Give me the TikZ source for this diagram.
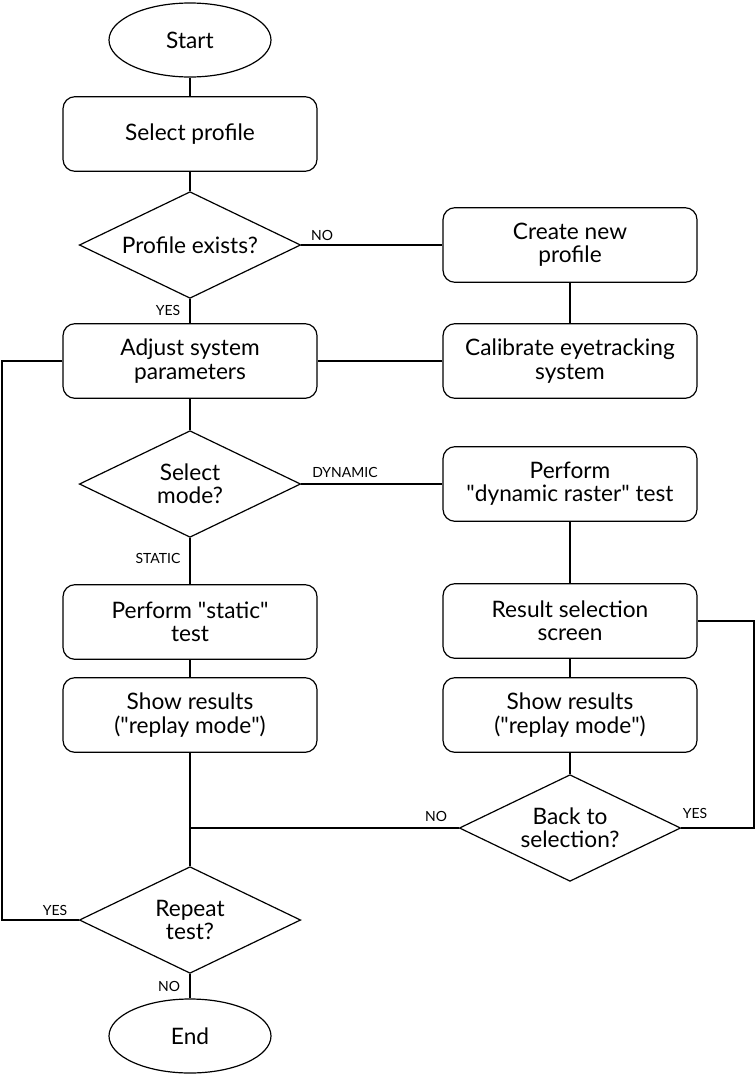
\documentclass[tikz,border=0pt]{standalone}
\usepackage{fontspec}
\setmainfont{Lato}
\usetikzlibrary{shapes.geometric, positioning}

\begin{document}
\begin{tikzpicture}[x=0.75pt, y=-0.75pt, line width=0.9pt]
                % Styles
                \tikzstyle{term}=[draw, ellipse, minimum width=121.5pt, minimum height=55.5pt, inner sep=0pt, font=\fontsize{17}{17.5}\selectfont]
                \tikzstyle{proc}=[draw, rounded corners=9pt, minimum width=190.5pt, minimum height=56pt, align=center, font=\fontsize{17}{17.5}\selectfont]
                \tikzstyle{decide}=[draw, diamond, aspect=2, inner sep=0pt, minimum width=166pt, minimum height=80pt, align=center, font=\fontsize{17}{17.5}\selectfont]
                \tikzstyle{lbl}=[inner sep=1pt, font=\fontsize{10.5}{12}\selectfont]

                \useasboundingbox (0,0) rectangle (756,1075);

                % Left column
                \node[term] (start) at (190,40) {Start};
                \node[proc] (sel) at (190,134) {Select profile};
                \node[decide] (exists) at (190,245) {Profile exists?};
                \node[proc] (adjust) at (190,361) {Adjust system\\parameters};
                \node[decide] (mode) at (190,484) {Select\\mode?};
                \node[proc] (stat) at (190,622) {Perform \textquotedbl static\textquotedbl\\test};
                \node[proc] (showl) at (190,715) {Show results\\(\textquotedbl replay mode\textquotedbl)};
                \node[decide] (repeat) at (190,920) {Repeat\\test?};
                \node[term] (stop) at (190,1036) {End};

                % Right column
                \node[proc] (create) at (570,245) {Create new\\profile};
                \node[proc] (calib) at (570,361) {Calibrate eyetracking\\system};
                \node[proc] (dyn) at (570,484) {Perform\\\textquotedbl dynamic raster\textquotedbl\ test};
                \node[proc] (ressel) at (570,621) {Result selection\\screen};
                \node[proc] (showr) at (570,715) {Show results\\(\textquotedbl replay mode\textquotedbl)};
                \node[decide] (back) at (570,828) {Back to\\selection?};

                % Loop corners
                \coordinate (lft) at (2,0);
                \coordinate (rgt) at (754,0);
                \coordinate (join) at (190,828);

                % Labels
                \node[lbl] (lexno) at (322,235) {NO};
                \node[lbl] (lexyes) at (168,310) {YES};
                \node[lbl] (ldyn) at (345,472) {DYNAMIC};
                \node[lbl] (lstat) at (158,558) {STATIC};
                \node[lbl] (lbkno) at (436,816) {NO};
                \node[lbl] (lbkyes) at (695,813) {YES};
                \node[lbl] (lrpyes) at (55,910) {YES};
                \node[lbl] (lrpno) at (169,986) {NO};

                % Connectors
                \draw (start) -- (sel);
                \draw (sel) -- (exists);
                \draw (exists) -- (adjust);
                \draw (exists.east) -- (create.west);
                \draw (create) -- (calib);
                \draw (calib) -- (adjust);
                \draw (adjust.west) -- (adjust.west -| lft) |- (repeat.west);
                \draw (adjust) -- (mode);
                \draw (mode.east) -- (dyn.west);
                \draw (mode) -- (stat);
                \draw (stat) -- (showl);
                \draw (showl) -- (repeat);
                \draw (repeat) -- (stop);
                \draw (dyn) -- (ressel);
                \draw (ressel) -- (showr);
                \draw (showr) -- (back);
                \draw (back.east) -- (back.east -| rgt) |- (ressel.east);
                \draw (back.west) -- (join);
            \end{tikzpicture}
\end{document}
